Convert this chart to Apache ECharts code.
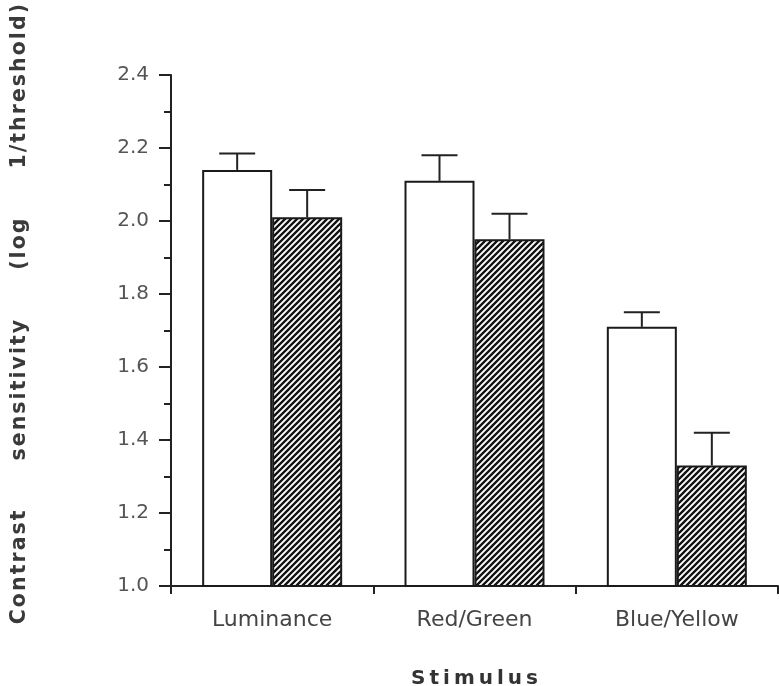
<!DOCTYPE html>
<html>
<head>
<meta charset="utf-8">
<script src="https://cdn.jsdelivr.net/npm/echarts@6/dist/echarts.min.js"></script>
<style>html,body{margin:0;padding:0;background:#fff;}#c{width:779px;height:686px;}</style>
</head>
<body>
<div id="c"></div>
<script>
const categories = ['Luminance', 'Red/Green', 'Blue/Yellow'];
const openValues = [2.14, 2.11, 1.71];
const hatchedValues = [2.01, 1.95, 1.33];
const openErrors = [0.045, 0.07, 0.04];
const hatchedErrors = [0.075, 0.07, 0.09];
const yMin = 1.0, yMax = 2.4, yStep = 0.2;
const xTitle = 'Stimulus';
const yTitleWords = ['Contrast', 'sensitivity', '(log', '1/threshold)'];

const BAR_W = 70;
const FONT = '"DejaVu Sans", "Liberation Sans", sans-serif';

function spaced(word) { return word.split('').join('\u200A'); }
const yTitle = yTitleWords.map(spaced).join('       ');
const xTitleSpaced = xTitle.split('').join('\u2009');

function hatchCanvas() {
  const s = 12, p = 6;
  const c = document.createElement('canvas');
  c.width = s; c.height = s;
  const g = c.getContext('2d');
  g.fillStyle = '#fff'; g.fillRect(0, 0, s, s);
  g.strokeStyle = '#121212'; g.lineWidth = 2.3;
  g.beginPath();
  for (let k = 0; k <= 4; k++) {
    const d = k * p; // line x + y = d
    g.moveTo(d + 2, -2); g.lineTo(d - s - 2, s + 2);
  }
  g.stroke();
  return c;
}

function errSeries(vals, errs, side) {
  return {
    type: 'custom',
    z: 5,
    data: vals.map((v, i) => [i, v, v + errs[i]]),
    renderItem: function (params, api) {
      const base = api.coord([api.value(0), api.value(1)]);
      const top = api.coord([api.value(0), api.value(2)]);
      const x = base[0] + side * BAR_W / 2;
      const half = 18;
      return {
        type: 'group',
        children: [
          { type: 'line', shape: { x1: x, y1: base[1], x2: x, y2: top[1] }, style: { stroke: '#222', lineWidth: 2 } },
          { type: 'line', shape: { x1: x - half, y1: top[1], x2: x + half, y2: top[1] }, style: { stroke: '#222', lineWidth: 2 } }
        ]
      };
    }
  };
}

const chart = echarts.init(document.getElementById('c'), null, { renderer: 'canvas' });
chart.setOption({
  animation: false,
  backgroundColor: '#fff',
  grid: { left: 171, right: 1, top: 75, bottom: 100, containLabel: false, outerBoundsMode: 'none' },
  graphic: [{
    type: 'text',
    left: 9, top: 4,
    rotation: Math.PI / 2,
    style: { text: yTitle, font: 'bold 20.5px ' + FONT, fill: '#3a3a3a' }
  }],
  xAxis: {
    type: 'category',
    data: categories,
    name: xTitleSpaced,
    nameLocation: 'middle',
    nameGap: 83,
    nameTextStyle: { fontFamily: FONT, fontSize: 20, fontWeight: 'bold', color: '#333' },
    axisLine: { lineStyle: { color: '#222', width: 2 } },
    axisTick: { show: true, length: 8, lineStyle: { color: '#222', width: 2 } },
    axisLabel: { fontFamily: FONT, fontSize: 22, color: '#444', margin: 23 }
  },
  yAxis: {
    type: 'value',
    min: yMin, max: yMax, interval: yStep,
    axisLine: { show: true, lineStyle: { color: '#222', width: 2 } },
    axisTick: { show: true, length: 12, lineStyle: { color: '#222', width: 2 } },
    minorTick: { show: true, splitNumber: 2, length: 7, lineStyle: { color: '#222', width: 2 } },
    splitLine: { show: false },
    axisLabel: { fontFamily: FONT, fontSize: 20, color: '#555', margin: 22, formatter: v => v.toFixed(1) }
  },
  series: [
    {
      type: 'bar', data: openValues, barWidth: BAR_W, barGap: '0%',
      itemStyle: { color: '#fff', borderColor: '#1a1a1a', borderWidth: 2 }
    },
    {
      type: 'bar', data: hatchedValues, barWidth: BAR_W, barGap: '0%',
      itemStyle: { color: { image: hatchCanvas(), repeat: 'repeat' }, borderColor: '#1a1a1a', borderWidth: 2 }
    },
    errSeries(openValues, openErrors, -1),
    errSeries(hatchedValues, hatchedErrors, 1)
  ]
});
</script>
</body>
</html>
